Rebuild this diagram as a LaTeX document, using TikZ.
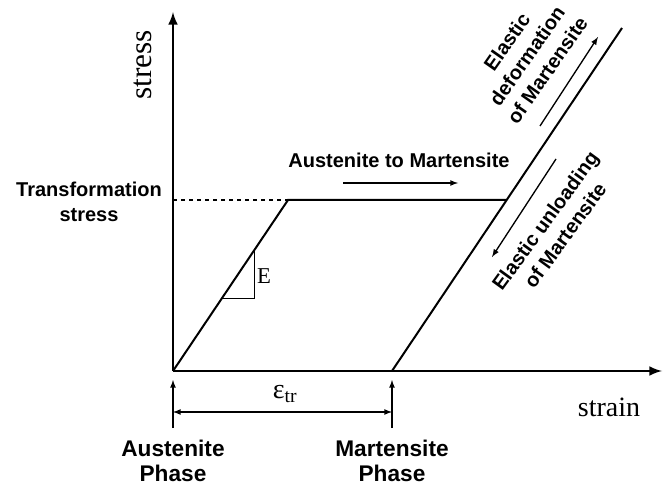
\documentclass[tikz,border=0pt]{standalone}
\usepackage{fontspec}
\setmainfont{Liberation Serif}
\setsansfont{Liberation Sans}
\tikzset{
  lbl/.style={font=\sffamily\bfseries\fontsize{15}{18.5}\selectfont,align=center,inner sep=0pt},
  phase/.style={font=\sffamily\bfseries\fontsize{17}{19}\selectfont,align=center,inner sep=0pt},
  axlbl/.style={font=\fontsize{21}{24}\selectfont,inner sep=0pt},
  curve/.style={line width=1.5pt},
  note/.style={line width=1pt,-latex},
}
\begin{document}
\begin{tikzpicture}[x=0.75pt,y=-0.75pt]
\useasboundingbox (0,0) rectangle (665,485);

% Points du diagramme
\coordinate (O) at (173,371);
\coordinate (Ytop) at (173,12);
\coordinate (Xend) at (662,371);
\coordinate (Ys) at (288,200);
\coordinate (Ye) at (506,200);
\coordinate (M) at (392,371);
\coordinate (Mtop) at (622,28);

% Axes
\draw[line width=2.2pt,-latex]
(O)
-- (Ytop);
\draw[line width=2.2pt,-latex]
(O)
-- (Xend);

\node[axlbl,font=\fontsize{23.5}{26}\selectfont,rotate=90] (stressl) at (143,65) {stress};
\node[axlbl] (strainl) at (609,407) {strain};

% Courbe
\draw[dashed,line width=1pt]
(O |- Ys)
-- (Ys);
\draw[curve]
(O)
-- (Ys)
-- (Ye);
\draw[curve]
(M)
-- (Mtop);

% Pente E
\coordinate (T1) at (222,298);
\coordinate (T2) at (254,298);
\coordinate (T3) at (254,250);
\draw[line width=0.75pt]
(T1)
-- (T2)
-- (T3);
\node[font=\fontsize{17}{20}\selectfont,inner sep=0pt] (E) at (264,276) {E};

\node[lbl] (trs) at (89,202) {Transformation\\stress};

% Plateau
\node[lbl] (a2m) at (399,160) {Austenite to Martensite};
\coordinate (P1) at (343,183);
\coordinate (P2) at (458,183);
\draw[note]
(P1)
-- (P2);

% Martensite elastique
\node[lbl,rotate=55] (edef) at (527,56) {Elastic\\deformation\\of Martensite};
\coordinate (D1) at (540,126);
\coordinate (D2) at (598,37);
\draw[note]
(D1)
-- (D2);

\node[lbl,rotate=54] (eunl) at (555,228) {Elastic unloading\\of Martensite};
\coordinate (U1) at (556,159);
\coordinate (U2) at (492,257);
\draw[note]
(U1)
-- (U2);

% Deformation de transformation
\coordinate (Ab) at (173,428);
\coordinate (Aa) at (173,380);
\coordinate (Mb) at (392,428);
\coordinate (Ma) at (392,380);
\draw[note]
(Ab)
-- (Aa);
\draw[note]
(Mb)
-- (Ma);
\coordinate (Ad) at (173,412);
\coordinate (Md) at (392,412);
\draw[line width=1pt,latex-latex]
(Ad)
-- (Md);
\node[font=\fontsize{21}{24}\selectfont,inner sep=0pt] (eps) at (285,394) {ε\textsubscript{tr}};

\node[phase] (aph) at (173,461) {Austenite\\Phase};
\node[phase] (mph) at (392,461) {Martensite\\Phase};

\end{tikzpicture}
\end{document}
